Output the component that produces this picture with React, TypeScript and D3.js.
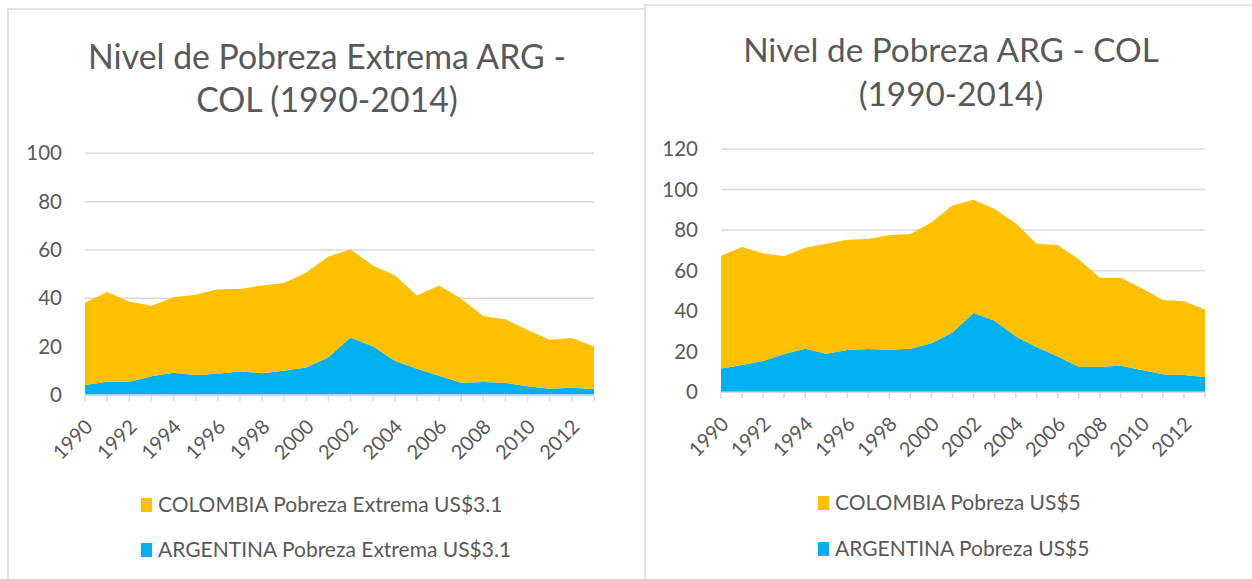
import React from 'react';
import * as d3 from 'd3';

const YEARS = [1990, 1991, 1992, 1993, 1994, 1995, 1996, 1997, 1998, 1999, 2000, 2001, 2002, 2003, 2004, 2005, 2006, 2007, 2008, 2009, 2010, 2011, 2012, 2013];
const X_LABEL_YEARS = [1990, 1992, 1994, 1996, 1998, 2000, 2002, 2004, 2006, 2008, 2010, 2012];

const ARG_EXTREMA = [4.1, 5.5, 5.5, 7.8, 9.2, 8.3, 8.8, 9.8, 9.0, 10.1, 11.4, 15.6, 23.8, 20.2, 14.2, 10.9, 8.0, 5.1, 5.4, 5.0, 3.6, 2.6, 3.0, 2.5];
const COL_EXTREMA = [34.1, 37.1, 33.2, 29.1, 31.2, 33.2, 35.0, 34.1, 36.3, 36.2, 39.3, 41.7, 36.4, 33.4, 35.3, 30.3, 37.3, 34.7, 27.2, 26.3, 23.3, 20.3, 20.6, 17.6];

const ARG_POBREZA = [11.8, 13.5, 15.4, 18.9, 21.5, 19.0, 20.9, 21.4, 21.0, 21.5, 24.2, 29.5, 39.1, 35.3, 27.6, 22.3, 17.6, 12.6, 12.6, 13.1, 11.0, 8.9, 8.5, 7.5];
const COL_POBREZA = [55.6, 58.2, 53.2, 48.2, 49.8, 54.3, 54.4, 54.2, 56.6, 56.6, 59.5, 62.6, 55.9, 55.1, 55.8, 51.0, 55.1, 53.0, 43.9, 43.4, 40.3, 36.6, 36.4, 33.4];

const Y_TICKS_EXTREMA = [0, 20, 40, 60, 80, 100];
const Y_TICKS_POBREZA = [0, 20, 40, 60, 80, 100, 120];

const TITLE_EXTREMA = ['Nivel de Pobreza Extrema ARG -', 'COL (1990-2014)'];
const TITLE_POBREZA = ['Nivel de Pobreza ARG - COL', '(1990-2014)'];
const LEGEND_EXTREMA = ['COLOMBIA Pobreza Extrema US$3.1', 'ARGENTINA Pobreza Extrema US$3.1'];
const LEGEND_POBREZA = ['COLOMBIA Pobreza US$5', 'ARGENTINA Pobreza US$5'];

const YELLOW = '#FFC000';
const BLUE = '#00B0F0';
const GRID = '#D9D9D9';
const TEXT = '#595959';
const FONT = 'Lato, "Open Sans", sans-serif';

type ChartProps = {
  left: number; right: number; top: number; bottom: number;
  yMax: number; yTicks: number[];
  arg: number[]; col: number[];
  title: string[]; titleX: number; titleY: number[]; titleSize: number;
  legend: string[]; legendX: number; legendY: number[];
  yLabelX: number;
};

function Chart(p: ChartProps) {
  const x = d3.scalePoint<number>().domain(YEARS).range([p.left, p.right]);
  const y = d3.scaleLinear().domain([0, p.yMax]).range([p.bottom, p.top]);
  const rows = YEARS.map((yr, i) => ({ year: yr, arg: p.arg[i], col: p.col[i] }));
  const stack = d3.stack<any>().keys(['arg', 'col'])(rows);
  const area = d3.area<any>()
    .x((d) => x(d.data.year) as number)
    .y0((d) => y(d[0]))
    .y1((d) => y(d[1]));
  const colors = [BLUE, YELLOW];
  return (
    <g>
      {p.title.map((t, i) => (
        <text key={t} x={p.titleX} y={p.titleY[i]} textAnchor="middle" fontSize={p.titleSize} fill={TEXT} fontFamily={FONT}>{t}</text>
      ))}
      {p.yTicks.map((t) => (
        <g key={t}>
          <line x1={p.left} x2={p.right} y1={y(t)} y2={y(t)} stroke={GRID} strokeWidth={1.5} />
          <text x={p.yLabelX} y={y(t)} dy="0.35em" textAnchor="end" fontSize={20.5} fill={TEXT} fontFamily={FONT}>{t}</text>
        </g>
      ))}
      {stack.map((s, i) => (
        <path key={s.key} d={area(s) as string} fill={colors[i]} />
      ))}
      <line x1={p.left} x2={p.right} y1={p.bottom} y2={p.bottom} stroke={GRID} strokeWidth={1.5} />
      {YEARS.map((yr) => (
        <line key={yr} x1={x(yr)} x2={x(yr)} y1={p.bottom} y2={p.bottom + 6} stroke={GRID} strokeWidth={1.5} />
      ))}
      {X_LABEL_YEARS.map((yr) => {
        const tx = (x(yr) as number) + 4;
        const ty = p.bottom + 28;
        return (
          <text key={yr} x={tx} y={ty} dy="0.35em" textAnchor="end" fontSize={20} fill={TEXT} fontFamily={FONT}
            transform={`rotate(-45 ${tx} ${ty})`}>{yr}</text>
        );
      })}
      {p.legend.map((t, i) => (
        <g key={t}>
          <rect x={p.legendX} y={p.legendY[i] - 14} width={11} height={14} fill={i === 0 ? YELLOW : BLUE} />
          <text x={p.legendX + 17} y={p.legendY[i]} fontSize={21} fill={TEXT} fontFamily={FONT}>{t}</text>
        </g>
      ))}
    </g>
  );
}

export default function App() {
  return (
    <svg width={1252} height={579} style={{ position: 'absolute', left: 0, top: 0, background: '#fff' }}>
      <rect x={8} y={9} width={700} height={620} fill="#fff" stroke={GRID} strokeWidth={1.5} />
      <rect x={645} y={5} width={640} height={620} fill="#fff" stroke={GRID} strokeWidth={1.5} />
      <Chart left={85} right={594} top={153.3} bottom={395} yMax={100} yTicks={Y_TICKS_EXTREMA}
        arg={ARG_EXTREMA} col={COL_EXTREMA}
        title={TITLE_EXTREMA} titleX={327} titleY={[69, 112]} titleSize={33.8}
        legend={LEGEND_EXTREMA} legendX={141} legendY={[512, 557]} yLabelX={62} />
      <Chart left={721} right={1205} top={149} bottom={392.3} yMax={120} yTicks={Y_TICKS_POBREZA}
        arg={ARG_POBREZA} col={COL_POBREZA}
        title={TITLE_POBREZA} titleX={951} titleY={[62, 106]} titleSize={33.3}
        legend={LEGEND_POBREZA} legendX={818} legendY={[510, 556]} yLabelX={698} />
    </svg>
  );
}
